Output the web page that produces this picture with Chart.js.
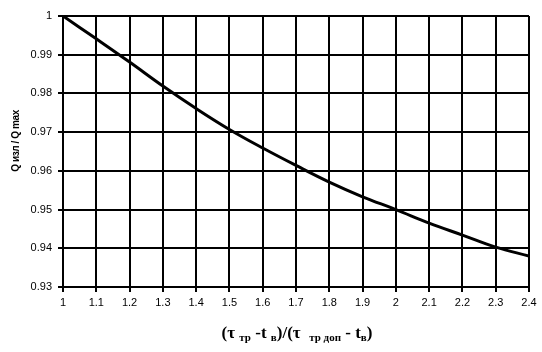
<!DOCTYPE html>
<html>
<head>
<meta charset="utf-8">
<script src="https://cdn.jsdelivr.net/npm/chart.js@4"></script>
<style>
  body { margin: 0; background: #fff; }
  #wrap { position: relative; width: 542px; height: 352px; }
  #xtitle {
    position: absolute; left: 0; width: 594px; top: 323px;
    text-align: center; font: bold 17px "Liberation Serif", "DejaVu Serif", serif; color: #000;
    line-height: 20px;
  }
  #xtitle sub { font-size: 11px; vertical-align: -3px; }
  #ytitle {
    position: absolute; left: 16px; top: 141px; width: 120px;
    text-align: center; font: bold 10px "Liberation Sans", Arial, sans-serif; color: #000;
    letter-spacing: -0.4px; line-height: 12px;
    transform: translate(-50%, -50%) rotate(-90deg);
  }
</style>
</head>
<body>
<div id="wrap">
  <canvas id="c" width="542" height="352"></canvas>
  <div id="ytitle">Q изл / Q max</div>
  <div id="xtitle">(τ <sub>тр</sub> -t <sub>в</sub>)/(τ &nbsp;<sub>тр доп</sub> - t<sub>в</sub>)</div>
</div>
<script>
const ratio = [1, 1.1, 1.2, 1.3, 1.4, 1.5, 1.6, 1.7, 1.8, 1.9, 2.0, 2.1, 2.2, 2.3, 2.4]
const qRatio = [1.0, 0.9941, 0.9881, 0.9819, 0.9761, 0.9707, 0.9659, 0.9614, 0.9571, 0.9533, 0.9500, 0.9465, 0.9434, 0.9403, 0.9380]

const tickFont = { family: '"Liberation Sans", Arial, sans-serif', size: 11 }
const gridOpts = {
  display: true,
  drawOnChartArea: true,
  drawTicks: true,
  color: 'black',
  lineWidth: 2,
  tickLength: 5,
  tickColor: 'black'
}

new Chart(
  document.getElementById('c'),
  {
    type: 'scatter',
    data: {
      datasets: [
        {
          data: ratio.map((x, i) => ({ x: x, y: qRatio[i] })),
          showLine: true,
          borderColor: '#000',
          borderWidth: 3,
          pointRadius: 0,
          tension: 0.4,
          fill: false
        }
      ]
    },
    options: {
      responsive: false,
      animation: false,
      layout: { padding: { left: 0, right: 13, top: 16, bottom: 0 } },
      plugins: {
        legend: { display: false },
        tooltip: { enabled: false }
      },
      scales: {
        x: {
          type: 'linear',
          min: 1,
          max: 2.4,
          afterFit: (s) => { s.height = 65 },
          ticks: {
            stepSize: 0.1,
            color: '#000',
            font: tickFont,
            padding: 4,
            maxRotation: 0,
            callback: (v) => String(Number(v.toFixed(1)))
          },
          grid: gridOpts,
          border: { color: 'black', width: 2 }
        },
        y: {
          type: 'linear',
          min: 0.93,
          max: 1,
          afterFit: (s) => { s.width = 63 },
          ticks: {
            stepSize: 0.01,
            color: '#000',
            font: tickFont,
            padding: 6,
            callback: (v) => String(Number(v.toFixed(2)))
          },
          grid: gridOpts,
          border: { color: 'black', width: 2 }
        }
      }
    }
  }
)
</script>
</body>
</html>
